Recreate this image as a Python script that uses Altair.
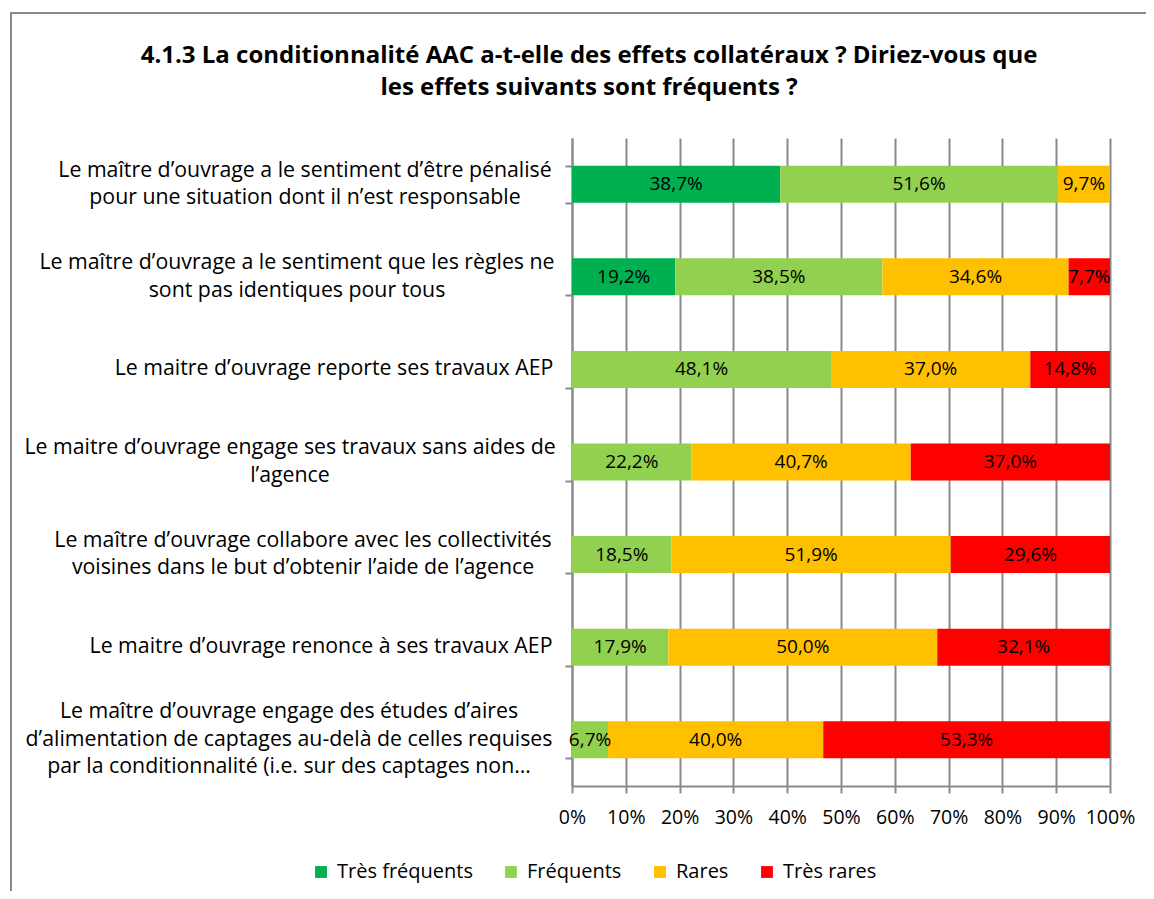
import altair as alt
import pandas as pd

categories = [
    "Le maître d’ouvrage a le sentiment d’être pénalisé|pour une situation dont il n’est responsable",
    "Le maître d’ouvrage a le sentiment que les règles ne|sont pas identiques pour tous",
    "Le maitre d’ouvrage reporte ses travaux AEP",
    "Le maitre d’ouvrage engage ses travaux sans aides de|l’agence",
    "Le maître d’ouvrage collabore avec les collectivités|voisines dans le but d’obtenir l’aide de l’agence",
    "Le maitre d’ouvrage renonce à ses travaux AEP",
    "Le maître d’ouvrage engage des études d’aires|d’alimentation de captages au-delà de celles requises|par la conditionnalité (i.e. sur des captages non…",
]
series = ["Très fréquents", "Fréquents", "Rares", "Très rares"]
tres_frequents = [38.7, 19.2, 0, 0, 0, 0, 0]
frequents = [51.6, 38.5, 48.1, 22.2, 18.5, 17.9, 6.7]
rares = [9.7, 34.6, 37.0, 40.7, 51.9, 50.0, 40.0]
tres_rares = [0, 7.7, 14.8, 37.0, 29.6, 32.1, 53.3]
colors = ["#00B050", "#92D050", "#FFC000", "#FF0000"]
x_ticks = [0, 0.1, 0.2, 0.3, 0.4, 0.5, 0.6, 0.7, 0.8, 0.9, 1.0]
title_lines = [
    "4.1.3 La conditionnalité AAC a-t-elle des effets collatéraux ? Diriez-vous que",
    "les effets suivants sont fréquents ?",
]

rows = []
for si, (name, vals) in enumerate(zip(series, [tres_frequents, frequents, rares, tres_rares])):
    for cat, v in zip(categories, vals):
        if v > 0:
            rows.append({"cat": cat, "series": name, "order": si, "v": v})
df = pd.DataFrame(rows)
label_df = pd.DataFrame({"cat": categories, "idx": list(range(len(categories)))})

FONT = "Open Sans"
GRAY = "#8a8a8a"
LINE_H = 27.5

# horizontal offset (px, from the axis line) of the centre of each wrapped category label
label_centres = [-267, -275, -238, -282, -269, -251, -283]

base = alt.Chart(df).transform_stack(
    stack="v", groupby=["cat"], as_=["v0", "v1"], offset="normalize",
    sort=[alt.SortField("order", order="ascending")],
).transform_calculate(
    mid="(datum.v0 + datum.v1) / 2",
    lab="replace(format(datum.v, '.1f'), '.', ',') + '%'",
)

y_enc = alt.Y(
    "cat:N", sort=categories,
    scale=alt.Scale(paddingInner=0.6, paddingOuter=0.3),
    axis=alt.Axis(
        title=None, labels=False,
        tickBand="extent", tickSize=7, tickColor=GRAY, tickWidth=2,
        domainColor=GRAY, domainWidth=2, grid=False,
    ),
)

bars = base.mark_bar().encode(
    x=alt.X(
        "v0:Q", scale=alt.Scale(domain=[0, 1], nice=False),
        axis=alt.Axis(
            title=None, format=".0%", values=x_ticks, grid=True, gridColor=GRAY,
            gridWidth=2, tickSize=7, tickColor=GRAY, tickWidth=2, domainColor=GRAY,
            domainWidth=2, labelFont=FONT, labelFontSize=19.5, labelColor="black",
            labelPadding=15, labelFlush=False,
        ),
    ),
    x2="v1:Q",
    y=y_enc,
    color=alt.Color(
        "series:N", sort=series,
        scale=alt.Scale(domain=series, range=colors),
        legend=alt.Legend(
            title=None, orient="none", legendX=-261, legendY=724, direction="horizontal",
            symbolType="square", symbolSize=140, symbolStrokeWidth=0,
            labelFont=FONT, labelFontSize=20, labelColor="black",
            columnPadding=28, labelOffset=6, padding=0,
        ),
    ),
)

texts = base.mark_text(font=FONT, fontSize=19, color="black", align="center", baseline="middle").encode(
    x="mid:Q", y=alt.Y("cat:N", sort=categories), text="lab:N"
)

cat_labels = alt.Chart(label_df).transform_calculate(
    lines="split(datum.cat, '|')"
).mark_text(
    font=FONT, fontSize=21.3, color="black", align="center", baseline="middle",
    lineHeight=LINE_H,
    dx=alt.ExprRef("[" + ",".join(str(c) for c in label_centres) + "][datum.idx]"),
    dy=alt.ExprRef(f"-{LINE_H / 2} * (length(datum.lines) - 1)"),
).encode(x=alt.value(0), y=alt.Y("cat:N", sort=categories), text="lines:N")

title = alt.Chart(pd.DataFrame({"a": [0]})).mark_text(
    text=title_lines, font=FONT, fontSize=24, fontWeight="bold", color="black",
    align="center", baseline="alphabetic", lineHeight=32,
).encode(x=alt.value(17), y=alt.value(-75))

frame = alt.Chart(pd.DataFrame({"a": [0]})).mark_rect(
    fillOpacity=0, stroke=GRAY, strokeWidth=2
).encode(x=alt.value(-561), x2=alt.value(700), y=alt.value(-125), y2=alt.value(900))

chart = alt.layer(frame, bars, texts, cat_labels, title).properties(
    width=538, height=648,
    padding={"left": 564, "top": 130, "right": 36, "bottom": 105},
    autosize="none",
).configure_view(stroke=None)

chart.save("out.html", embed_options={"renderer": "svg", "actions": False})
